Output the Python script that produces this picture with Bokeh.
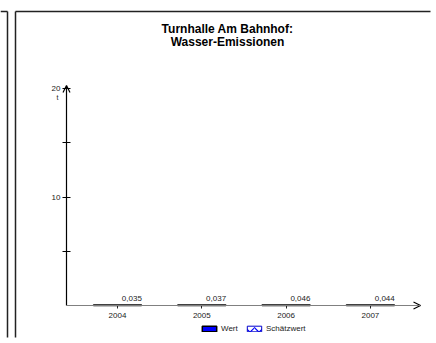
from bokeh.plotting import figure
from bokeh.models import (ColumnDataSource, Range1d, FixedTicker, Arrow,
                          OpenHead, Label, Legend, LegendItem)
from bokeh.transform import dodge
from bokeh.core.properties import value
from bokeh.embed import file_html
from bokeh.resources import INLINE

# ---- data ----
years = [2004, 2005, 2006, 2007]
wert = [0.035, 0.037, 0.046, 0.044]
wert_labels = ["0,035", "0,037", "0,046", "0,044"]
schaetzwert = [float("nan")] * 4          # no estimated values in this chart
y_ticks = [5, 10, 15, 20]
y_tick_labels = {5: "", 10: "10", 15: "", 20: "20"}
year_labels = {2004: "2004", 2005: "2005", 2006: "2006", 2007: "2007"}
unit_label = "t"
title_lines = ["Turnhalle Am Bahnhof:", "Wasser-Emissionen"]
legend_labels = ["Wert", "Schätzwert"]

FONT = "Liberation Sans"
TXT = "#222222"

W, H = 436, 343
PX_X = 84.3          # pixels per year
PX_Y = 10.84         # pixels per tonne
X0 = 2004 - 117 / PX_X
Y0 = -38 / PX_Y
X1 = X0 + W / PX_X
Y1 = Y0 + H / PX_Y


def sx(px):   # canvas px (from left) -> data x
    return X0 + px / PX_X


def sy(py):   # canvas px (from top) -> data y
    return Y1 - py / PX_Y


AX_X = sx(66)         # y-axis position
AX_TOP = sy(85)
AX_RIGHT = sx(420)

src = ColumnDataSource(dict(year=years, wert=wert, label=wert_labels))
est = ColumnDataSource(dict(year=years, wert=schaetzwert))

p = figure(width=W, height=H, x_range=Range1d(X0, X1), y_range=Range1d(Y0, Y1),
           output_backend="svg", toolbar_location=None,
           min_border_left=0, min_border_right=0, min_border_top=0, min_border_bottom=0)
p.title.visible = False
p.xgrid.visible = False
p.ygrid.visible = False
p.outline_line_color = None
p.background_fill_color = "white"
p.border_fill_color = "white"

# panel borders (page frame lines) - stop just short of the canvas edges
frame_segs = [(15, 11, 430, 11), (15, 11, 15, 337), (0, 11, 7, 11), (7, 11, 7, 337)]
p.segment(x0=[sx(s[0]) for s in frame_segs], y0=[sy(s[1]) for s in frame_segs],
          x1=[sx(s[2]) for s in frame_segs], y1=[sy(s[3]) for s in frame_segs],
          line_color="#222222", line_width=1.5)

# axes
xa = p.xaxis[0]
xa.fixed_location = 0
xa.ticker = FixedTicker(ticks=years)
xa.major_label_overrides = year_labels
xa.axis_line_color = None
xa.major_tick_in = 0
xa.major_tick_out = 3
xa.minor_tick_line_color = None
xa.major_tick_line_color = TXT
xa.major_label_standoff = 4
xa.major_label_text_font = FONT
xa.major_label_text_font_size = "8px"
xa.major_label_text_color = TXT

ya = p.yaxis[0]
ya.fixed_location = AX_X
ya.ticker = FixedTicker(ticks=y_ticks)
ya.major_label_overrides = y_tick_labels
ya.axis_line_color = None
ya.major_tick_in = 4
ya.major_tick_out = 4
ya.major_tick_line_color = "black"
ya.minor_tick_line_color = None
ya.major_label_standoff = 2
ya.major_label_text_font = FONT
ya.major_label_text_font_size = "8px"
ya.major_label_text_color = TXT

# bars
bars = p.vbar(x="year", top="wert", bottom=0, width=0.57, source=src,
              fill_color="#0000ff", line_color="black", line_width=1.5)
est_r = p.vbar(x="year", top="wert", bottom=0, width=0.57, source=est,
               fill_color="white", line_color="#0000cc", line_width=1,
               hatch_pattern="v", hatch_color="#0000ff", hatch_scale=9, hatch_weight=1.2)

p.text(x=dodge("year", 0.17), y=0.64, text="label", source=src,
       text_font=value(FONT), text_font_size="8px", text_color=TXT,
       text_align="center", text_baseline="middle")

# axis arrows
p.add_layout(Arrow(x_start=AX_X, y_start=0, x_end=AX_X, y_end=AX_TOP,
                   line_color="black", line_width=1.2,
                   end=OpenHead(size=7, line_color="black", line_width=1.2)))
p.add_layout(Arrow(x_start=AX_X, y_start=0, x_end=AX_RIGHT, y_end=0,
                   line_color="#808080", line_width=1.2,
                   end=OpenHead(size=7, line_color="black", line_width=1.2)))

# unit label
p.add_layout(Label(x=sx(57), y=sy(97), text=unit_label, text_font=FONT, text_font_size="7px",
                   text_color=TXT, text_align="center", text_baseline="middle"))

# title
for i, line in enumerate(title_lines):
    p.add_layout(Label(x=sx(227), y=sy(28 + 13 * i), text=line, text_font=FONT,
                       text_font_size="12px", text_font_style="bold", text_color="black",
                       text_align="center", text_baseline="middle"))

legend = Legend(items=[LegendItem(label=legend_labels[0], renderers=[bars]),
                       LegendItem(label=legend_labels[1], renderers=[est_r])],
                location=(200, 10), orientation="horizontal",
                background_fill_alpha=0, border_line_color=None,
                padding=0, margin=0, spacing=4, label_standoff=3,
                glyph_width=18, glyph_height=7, label_height=7,
                label_text_font=FONT, label_text_font_size="8px", label_text_color=TXT)
p.add_layout(legend, "center")

open("out.html", "w").write(file_html(p, INLINE))
